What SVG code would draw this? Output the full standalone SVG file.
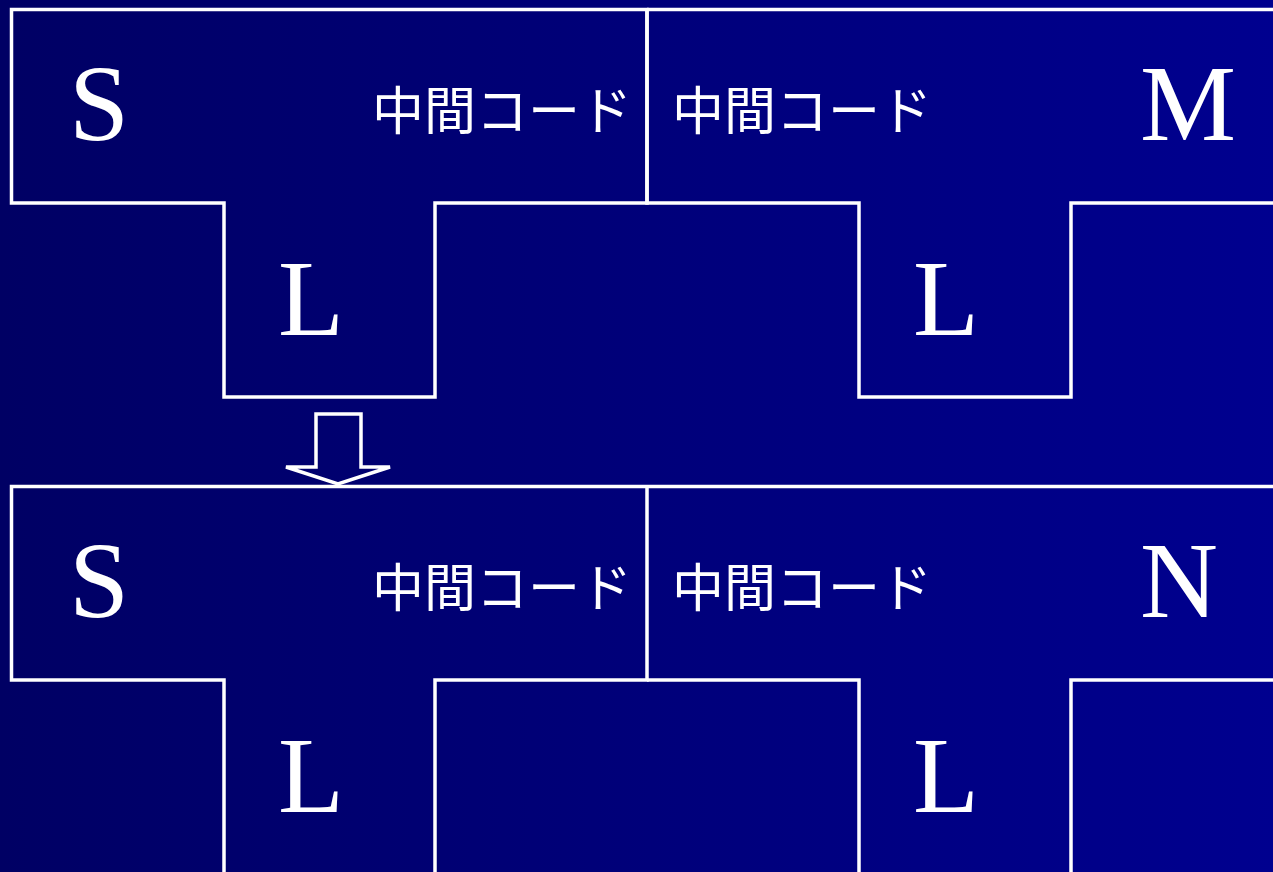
<svg xmlns="http://www.w3.org/2000/svg" width="1273" height="872" viewBox="0 0 1273 872">
<defs>
<linearGradient id="bg" x1="0" y1="0" x2="1" y2="0">
<stop offset="0" stop-color="#000064"/>
<stop offset="1" stop-color="#00008F"/>
</linearGradient>
</defs>
<style>
.ln{fill:none;stroke:#fff;stroke-width:3.5}
.big{font-family:"Liberation Serif","Times New Roman",serif;font-size:108px;fill:#fff}
.jp{font-family:"Noto Sans CJK JP","Noto Sans CJK SC",sans-serif;font-size:52px;font-weight:400;fill:#fff}
</style>
<rect width="1273" height="872" fill="url(#bg)"/>
<g id="top">
<g id="top-left">
<path class="ln" d="M647,9.5 H11.5 V203 H224 V397 H435 V203 H647 Z"/>
<text class="big" x="69" y="140">S</text>
<text class="jp" x="372" y="130">中間コード</text>
<text class="big" x="278" y="335">L</text>
</g>
<g id="top-right">
<path class="ln" d="M647,9.5 H1275 M1275,203 H1071 V397 H859 V203 H647 V9.5"/>
<text class="jp" x="672" y="130">中間コード</text>
<text class="big" x="1140" y="140">M</text>
<text class="big" x="913" y="335">L</text>
</g>
</g>
<g id="connectors">
<path class="ln" d="M316,414 H361 V467 H390 L338,484 L286,467 H316 Z"/>
</g>
<g id="bottom">
<g id="bottom-left">
<path class="ln" d="M647,486.5 H11.5 V680 H224 V875 M435,875 V680 H647 V486.5"/>
<text class="big" x="69" y="617">S</text>
<text class="jp" x="372" y="607">中間コード</text>
<text class="big" x="278" y="812">L</text>
</g>
<g id="bottom-right">
<path class="ln" d="M647,486.5 H1275 M1275,680 H1071 V875 M859,875 V680 H647"/>
<text class="jp" x="672" y="607">中間コード</text>
<text class="big" x="1140" y="617">N</text>
<text class="big" x="913" y="812">L</text>
</g>
</g>
</svg>
